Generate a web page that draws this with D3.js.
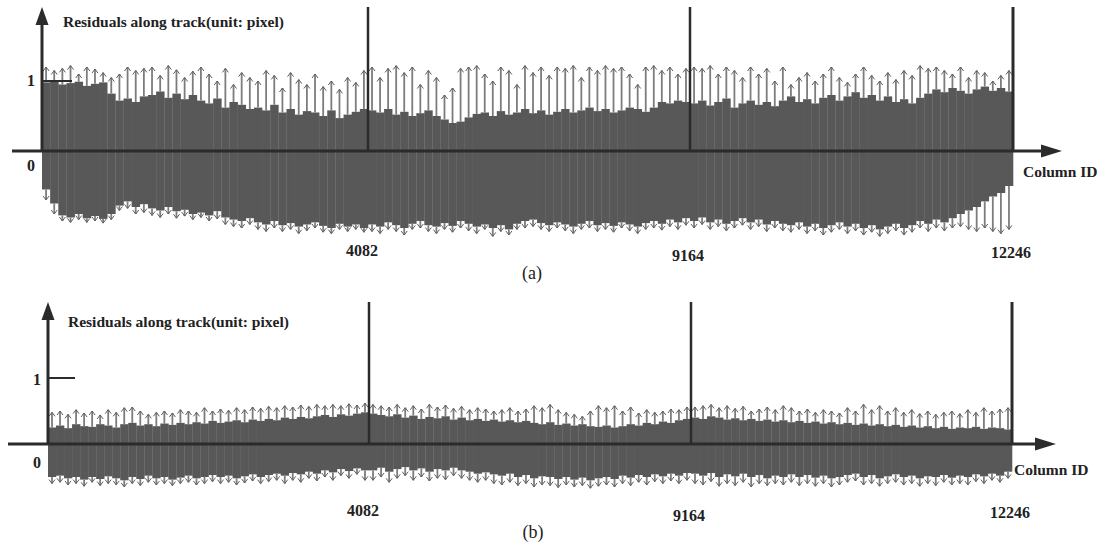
<!DOCTYPE html>
<html><head><meta charset="utf-8">
<script src="https://cdn.jsdelivr.net/npm/d3@7"></script>
<style>
body{margin:0;background:#fff}
svg{display:block}
text{font-family:"Liberation Serif","Times New Roman",serif;fill:#222}
</style>
</head><body>
<svg id="c" width="1101" height="550"></svg>
<script>
// ---------------- data ----------------
const columnBreaks = [0, 4082, 9164, 12246];
const tickLabels = ["4082", "9164", "12246"];
const yTickValues = [0, 1];
const yTitle = "Residuals along track(unit: pixel)";
const xTitle = "Column ID";
const panelLabels = ["(a)", "(b)"];

// panel (a): residuals before correction, 40 bins per segment (3 segments)
const upBodyA = [
 0.98,1.0,0.95,0.97,0.99,0.93,0.96,0.98,0.82,0.72,0.75,0.7,0.78,0.8,0.85,0.76,0.82,0.74,0.8,0.72,
 0.68,0.75,0.62,0.7,0.66,0.6,0.62,0.58,0.66,0.55,0.6,0.52,0.57,0.55,0.5,0.58,0.47,0.52,0.56,0.6,
 0.58,0.55,0.6,0.52,0.56,0.5,0.54,0.58,0.5,0.45,0.4,0.42,0.48,0.53,0.55,0.5,0.57,0.52,0.55,0.6,
 0.54,0.58,0.52,0.56,0.6,0.55,0.58,0.62,0.57,0.6,0.55,0.58,0.62,0.6,0.56,0.62,0.7,0.68,0.72,0.7,
 0.68,0.72,0.65,0.7,0.75,0.62,0.68,0.72,0.66,0.7,0.64,0.72,0.78,0.7,0.74,0.68,0.76,0.8,0.72,0.78,
 0.84,0.76,0.8,0.72,0.78,0.7,0.74,0.68,0.76,0.82,0.88,0.84,0.9,0.86,0.82,0.88,0.92,0.86,0.9,0.85];
const upPeakA = [
 1.2,1.15,1.18,1.22,1.1,1.2,1.17,1.12,1.05,1.1,1.2,1.15,1.18,1.2,1.08,1.22,1.16,1.05,1.14,1.2,
 1.1,1.0,1.18,0.95,1.12,1.05,1.0,1.15,1.08,0.9,1.12,1.02,0.95,1.1,0.92,1.0,0.88,1.05,0.98,1.15,
 1.2,1.05,1.18,1.22,1.12,1.2,0.95,1.15,1.05,0.8,0.9,1.18,1.2,1.22,1.1,1.0,1.2,1.15,0.95,1.22,
 1.12,1.2,1.08,1.2,1.18,1.22,1.05,1.2,1.15,1.22,1.18,1.2,1.1,0.95,1.2,1.22,1.15,1.2,1.1,1.18,
 1.2,1.18,1.22,1.1,1.2,1.15,1.05,1.2,1.1,1.18,1.0,1.2,0.95,1.05,1.12,1.0,1.1,1.2,1.05,0.98,
 1.1,1.2,1.08,1.0,1.12,1.02,1.15,1.08,1.22,1.18,1.2,1.15,1.1,1.2,1.05,1.15,1.12,1.0,1.08,1.15];
const downBodyA = [
 -0.55,-0.75,-0.92,-0.95,-0.9,-0.96,-0.93,-0.97,-0.9,-0.78,-0.72,-0.8,-0.76,-0.82,-0.85,-0.8,-0.86,-0.84,-0.9,-0.88,
 -0.92,-0.86,-0.95,-0.98,-1.0,-0.96,-1.02,-1.05,-1.0,-1.06,-1.03,-1.08,-1.05,-1.02,-1.07,-1.1,-1.04,-1.08,-1.05,-1.1,
 -1.05,-1.08,-1.02,-1.06,-1.1,-1.04,-1.0,-1.06,-1.08,-1.03,-1.07,-1.0,-1.04,-1.08,-1.05,-1.1,-1.06,-1.12,-1.04,-1.0,
 -0.98,-1.03,-1.06,-1.02,-1.05,-1.08,-1.04,-1.0,-1.06,-1.03,-1.07,-1.02,-1.05,-1.08,-1.03,-1.0,-1.04,-0.98,-1.02,-0.96,
 -1.0,-0.95,-1.02,-0.98,-1.04,-1.0,-0.96,-1.02,-0.98,-1.05,-1.0,-1.04,-1.06,-1.02,-1.08,-1.04,-1.1,-1.06,-1.02,-1.08,
 -1.04,-1.1,-1.06,-1.12,-1.08,-1.04,-1.1,-1.06,-1.0,-1.04,-0.98,-1.02,-0.96,-0.9,-0.85,-0.8,-0.72,-0.65,-0.6,-0.5];
const downPeakA = [
 -0.7,-0.9,-1.0,-1.02,-0.98,-1.02,-1.0,-1.03,-0.98,-0.85,-0.82,-0.9,-0.88,-0.92,-0.95,-0.9,-0.96,-0.93,-0.98,-0.95,
 -1.0,-0.97,-1.05,-1.08,-1.1,-1.05,-1.12,-1.15,-1.1,-1.15,-1.12,-1.18,-1.14,-1.1,-1.16,-1.18,-1.12,-1.15,-1.12,-1.16,
 -1.15,-1.18,-1.12,-1.15,-1.2,-1.12,-1.1,-1.15,-1.18,-1.12,-1.16,-1.1,-1.14,-1.18,-1.12,-1.22,-1.15,-1.2,-1.12,-1.1,
 -1.08,-1.12,-1.15,-1.1,-1.14,-1.18,-1.12,-1.1,-1.15,-1.12,-1.16,-1.1,-1.14,-1.18,-1.12,-1.1,-1.13,-1.08,-1.12,-1.06,
 -1.1,-1.05,-1.12,-1.08,-1.14,-1.1,-1.06,-1.12,-1.08,-1.15,-1.1,-1.14,-1.16,-1.12,-1.18,-1.14,-1.2,-1.16,-1.12,-1.18,
 -1.14,-1.2,-1.16,-1.22,-1.18,-1.14,-1.2,-1.16,-1.1,-1.15,-1.1,-1.14,-1.1,-1.08,-1.12,-1.15,-1.1,-1.15,-1.18,-1.12];

// panel (b): residuals after correction
const upBodyB = [
 0.25,0.28,0.24,0.3,0.27,0.26,0.3,0.28,0.25,0.3,0.32,0.28,0.3,0.27,0.31,0.29,0.32,0.3,0.33,0.31,
 0.35,0.32,0.34,0.36,0.33,0.37,0.35,0.38,0.36,0.4,0.38,0.41,0.39,0.42,0.44,0.41,0.45,0.43,0.46,0.48,
 0.46,0.44,0.42,0.45,0.4,0.43,0.38,0.41,0.39,0.42,0.37,0.4,0.36,0.38,0.35,0.37,0.34,0.36,0.33,0.35,
 0.32,0.3,0.33,0.29,0.31,0.28,0.3,0.27,0.26,0.28,0.25,0.27,0.3,0.28,0.32,0.3,0.34,0.32,0.36,0.38,
 0.4,0.38,0.42,0.4,0.37,0.39,0.36,0.38,0.35,0.37,0.34,0.36,0.33,0.35,0.32,0.34,0.31,0.33,0.3,0.32,
 0.29,0.31,0.28,0.3,0.27,0.29,0.26,0.28,0.25,0.27,0.24,0.26,0.23,0.25,0.24,0.26,0.23,0.25,0.24,0.22];
const upPeakB = [
 0.48,0.5,0.45,0.52,0.47,0.5,0.44,0.52,0.48,0.55,0.56,0.5,0.45,0.48,0.5,0.47,0.52,0.5,0.48,0.55,
 0.5,0.53,0.51,0.55,0.52,0.56,0.54,0.57,0.55,0.58,0.56,0.59,0.57,0.6,0.58,0.6,0.58,0.61,0.59,0.62,
 0.6,0.58,0.56,0.6,0.55,0.58,0.53,0.6,0.56,0.59,0.54,0.57,0.52,0.55,0.53,0.5,0.52,0.55,0.5,0.53,
 0.58,0.55,0.6,0.52,0.48,0.45,0.42,0.5,0.58,0.55,0.58,0.5,0.56,0.47,0.52,0.48,0.5,0.53,0.52,0.56,
 0.56,0.58,0.6,0.55,0.58,0.54,0.57,0.5,0.53,0.56,0.52,0.58,0.55,0.5,0.53,0.48,0.52,0.5,0.47,0.55,
 0.5,0.6,0.52,0.58,0.5,0.55,0.48,0.52,0.46,0.5,0.45,0.48,0.5,0.46,0.52,0.48,0.55,0.5,0.53,0.55];
const downBodyB = [
 -0.5,-0.48,-0.52,-0.5,-0.54,-0.5,-0.53,-0.49,-0.52,-0.55,-0.5,-0.53,-0.48,-0.52,-0.5,-0.54,-0.51,-0.48,-0.52,-0.5,
 -0.47,-0.5,-0.48,-0.52,-0.49,-0.46,-0.5,-0.47,-0.45,-0.48,-0.44,-0.46,-0.42,-0.45,-0.4,-0.43,-0.38,-0.41,-0.37,-0.4,
 -0.4,-0.36,-0.42,-0.38,-0.35,-0.4,-0.37,-0.42,-0.38,-0.4,-0.36,-0.4,-0.42,-0.45,-0.43,-0.46,-0.48,-0.45,-0.5,-0.47,
 -0.52,-0.49,-0.5,-0.53,-0.5,-0.54,-0.51,-0.55,-0.52,-0.5,-0.53,-0.48,-0.51,-0.47,-0.5,-0.46,-0.49,-0.45,-0.48,-0.44,
 -0.45,-0.48,-0.44,-0.5,-0.46,-0.49,-0.45,-0.5,-0.47,-0.52,-0.48,-0.5,-0.46,-0.5,-0.47,-0.51,-0.48,-0.52,-0.5,-0.47,
 -0.45,-0.5,-0.47,-0.52,-0.49,-0.46,-0.5,-0.48,-0.52,-0.49,-0.5,-0.47,-0.51,-0.48,-0.5,-0.46,-0.49,-0.45,-0.48,-0.42];
const downPeakB = [
 -0.6,-0.58,-0.62,-0.6,-0.64,-0.58,-0.63,-0.6,-0.62,-0.65,-0.6,-0.63,-0.58,-0.62,-0.6,-0.63,-0.6,-0.58,-0.62,-0.6,
 -0.57,-0.6,-0.58,-0.62,-0.59,-0.56,-0.6,-0.57,-0.55,-0.6,-0.55,-0.58,-0.52,-0.56,-0.5,-0.55,-0.48,-0.52,-0.46,-0.55,
 -0.55,-0.5,-0.58,-0.52,-0.48,-0.55,-0.5,-0.56,-0.52,-0.54,-0.48,-0.52,-0.55,-0.58,-0.55,-0.6,-0.62,-0.58,-0.63,-0.6,
 -0.65,-0.62,-0.63,-0.66,-0.62,-0.65,-0.63,-0.67,-0.64,-0.62,-0.65,-0.6,-0.63,-0.58,-0.62,-0.57,-0.6,-0.56,-0.6,-0.55,
 -0.6,-0.62,-0.57,-0.64,-0.6,-0.63,-0.58,-0.65,-0.6,-0.63,-0.6,-0.62,-0.58,-0.63,-0.6,-0.64,-0.6,-0.65,-0.62,-0.58,
 -0.56,-0.62,-0.6,-0.64,-0.6,-0.58,-0.62,-0.6,-0.64,-0.6,-0.63,-0.58,-0.62,-0.6,-0.62,-0.57,-0.6,-0.55,-0.58,-0.52];

// ---------------- layout ----------------
const binsPerSegment = 40;
const panels = [
  {up: upBodyA, upPk: upPeakA, dn: downBodyA, dnPk: downPeakA, label: panelLabels[0],
   xr: [42, 368, 690, 1013], y0: 151, y1: 81, top: 7, axL: 12, axR: 1062,
   titleX: 63, titleY: 27, tickLen: 30, tickLabYs: [256, 261, 258],
   colX: 1023, colY: 177, labX: 532, labY: 279, zeroY: 171, oneY: 86, numX: 31},
  {up: upBodyB, upPk: upPeakB, dn: downBodyB, dnPk: downPeakB, label: panelLabels[1],
   xr: [48, 369, 691, 1012], y0: 444, y1: 378, top: 302, axL: 8, axR: 1056,
   titleX: 68, titleY: 327, tickLen: 27, tickLabYs: [516, 521, 518],
   colX: 1014, colY: 475, labX: 533, labY: 538, zeroY: 468, oneY: 385, numX: 37}
];

const svg = d3.select("#c");
svg.append("rect").attr("width", 1101).attr("height", 550).attr("fill", "#fff");

const defs = svg.append("defs");
defs.append("marker").attr("id", "ah").attr("viewBox", "-5 -4 6 8")
  .attr("refX", 0).attr("refY", 0).attr("markerWidth", 6).attr("markerHeight", 8)
  .attr("markerUnits", "userSpaceOnUse").attr("orient", "auto")
  .append("path").attr("d", "M-4,-3L0,0L-4,3").attr("fill", "none")
  .attr("stroke", "#5e5e5e").attr("stroke-width", 1);

const AX = "#2b2b2b";

panels.forEach(p => {
  const x = d3.scaleLinear().domain(columnBreaks).range(p.xr);
  const y = d3.scaleLinear().domain([0, 1]).range([p.y0, p.y1]);

  const bins = [];
  for (let s = 0; s < columnBreaks.length - 1; s++) {
    const a = columnBreaks[s], b = columnBreaks[s + 1];
    for (let j = 0; j < binsPerSegment; j++) {
      const i = s * binsPerSegment + j;
      bins.push({c0: a + (b - a) * j / binsPerSegment, c1: a + (b - a) * (j + 1) / binsPerSegment,
        up: p.up[i], upPk: p.upPk[i], dn: p.dn[i], dnPk: p.dnPk[i]});
    }
  }
  const g = svg.append("g");
  g.selectAll("rect.up").data(bins).join("rect").attr("class", "up")
    .attr("x", d => x(d.c0)).attr("width", d => x(d.c1) - x(d.c0) + 0.3)
    .attr("y", d => y(d.up)).attr("height", d => y(0) - y(d.up)).attr("fill", "#585858");
  g.selectAll("rect.dn").data(bins).join("rect").attr("class", "dn")
    .attr("x", d => x(d.c0)).attr("width", d => x(d.c1) - x(d.c0) + 0.3)
    .attr("y", y(0)).attr("height", d => y(d.dn) - y(0)).attr("fill", "#585858");
  const mid = d => x((d.c0 + d.c1) / 2);
  g.selectAll("line.ua").data(bins).join("line").attr("class", "ua")
    .attr("x1", mid).attr("x2", mid).attr("y1", d => y(d.up)).attr("y2", d => y(d.upPk))
    .attr("stroke", "#7c7c7c").attr("stroke-width", 1.8).attr("marker-end", "url(#ah)");
  g.selectAll("line.da").data(bins).join("line").attr("class", "da")
    .attr("x1", mid).attr("x2", mid).attr("y1", d => y(d.dn)).attr("y2", d => y(d.dnPk))
    .attr("stroke", "#7c7c7c").attr("stroke-width", 1.8).attr("marker-end", "url(#ah)");

  svg.append("line").attr("x1", p.axL).attr("x2", p.axR - 18).attr("y1", y(0)).attr("y2", y(0))
    .attr("stroke", AX).attr("stroke-width", 3);
  svg.append("path").attr("d", `M${p.axR},${y(0)}L${p.axR - 21},${y(0) - 6.5}L${p.axR - 21},${y(0) + 6.5}Z`).attr("fill", AX);
  svg.append("line").attr("x1", x(0)).attr("x2", x(0)).attr("y1", y(0)).attr("y2", p.top + 14)
    .attr("stroke", AX).attr("stroke-width", 3);
  svg.append("path").attr("d", `M${x(0)},${p.top}L${x(0) - 6.5},${p.top + 18}L${x(0) + 6.5},${p.top + 18}Z`).attr("fill", AX);
  svg.append("line").attr("x1", x(0)).attr("x2", x(0) + p.tickLen).attr("y1", y(1)).attr("y2", y(1))
    .attr("stroke", AX).attr("stroke-width", 2);
  svg.selectAll(null).data(yTickValues).join("text")
    .attr("x", p.numX).attr("y", d => d === 0 ? p.zeroY : p.oneY)
    .attr("text-anchor", "middle").attr("font-weight", "bold").attr("font-size", 16)
    .text(d => d);
  svg.selectAll(null).data(columnBreaks.slice(1)).join("line")
    .attr("x1", d => x(d)).attr("x2", d => x(d)).attr("y1", p.top).attr("y2", y(0))
    .attr("stroke", AX).attr("stroke-width", (d, i) => i === 2 ? 3 : 2.5);
  svg.selectAll(null).data(tickLabels).join("text")
    .attr("x", (d, i) => x(columnBreaks[i + 1]) - (i === 0 ? 6 : 2))
    .attr("y", (d, i) => p.tickLabYs[i])
    .attr("text-anchor", "middle").attr("font-weight", "bold").attr("font-size", 16).text(d => d);
  svg.append("text").attr("x", p.titleX).attr("y", p.titleY).attr("font-weight", "bold")
    .attr("font-size", 15.5).text(yTitle);
  svg.append("text").attr("x", p.colX).attr("y", p.colY).attr("font-weight", "bold")
    .attr("font-size", 15.5).text(xTitle);
  svg.append("text").attr("x", p.labX).attr("y", p.labY).attr("text-anchor", "middle")
    .attr("font-size", 18).text(p.label);
});
</script>
</body></html>
